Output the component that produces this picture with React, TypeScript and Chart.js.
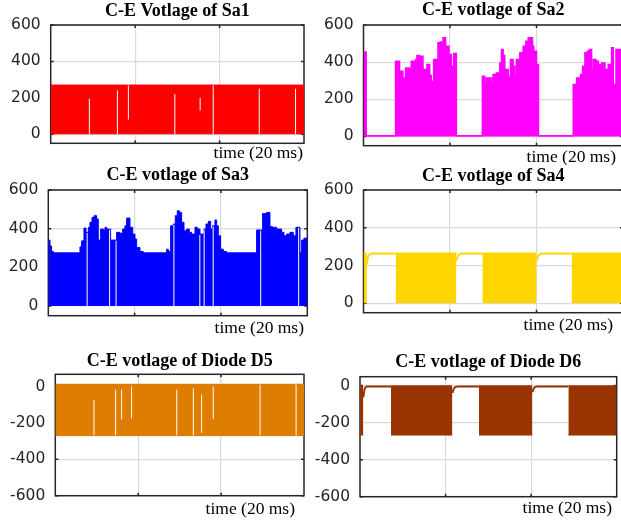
import React, { useEffect, useRef } from 'react';
import { Chart, registerables } from 'chart.js';

Chart.register(...registerables);

// ---------- shared axis data ----------
const X_LABEL = 'time (20 ms)';
const T_MIN = 0;
const T_MAX = 60;
const X_TICKS = [20, 40];
const Y_TICKS_UP = [0, 200, 400, 600];
const Y_TICKS_DOWN = [-600, -400, -200, 0];

const TITLES = [
  'C-E Votlage of Sa1',
  'C-E votlage of Sa2',
  'C-E votlage of Sa3',
  'C-E votlage of Sa4',
  'C-E votlage of Diode D5',
  'C-E votlage of Diode D6',
];

// ---------- Sa1 (PWM band 0..270 with a few gaps) ----------
const SA1_BAND_T = [0, 60];
const SA1_BAND_V = [270, 270];
const SA1_GAP_T = [9.16, 15.8, 18.4, 29.4, 35.4, 38.5, 49.4, 58.0];
const SA1_GAP_LO = [0, 0, 80, 0, 130, 0, 0, 0];
const SA1_GAP_HI = [194, 240, 268, 220, 200, 268, 250, 250];

// ---------- Sa2 (envelope, value holds until next time) ----------
const SA2_T = [0, 0.62, 7.41, 8.34, 9.11, 9.73, 10.66, 11.04, 12.05, 12.36, 12.97, 13.75, 14.36, 14.67, 15.29, 15.68, 16.22, 17.22, 17.76, 18.38, 19.0, 19.77, 20.31, 20.85, 21.47, 27.49, 28.03, 28.42, 29.58, 29.96, 30.73, 31.51, 31.89, 32.28, 32.66, 33.44, 33.98, 34.59, 34.98, 35.37, 36.14, 36.91, 37.53, 38.07, 39.07, 39.38, 40.0, 40.46, 48.49, 49.27, 49.88, 50.19, 50.66, 51.2, 51.74, 52.2, 52.74, 53.13, 53.75, 54.29, 55.06, 55.83, 56.6, 57.37, 57.76, 58.38, 58.92, 60];
const SA2_V = [455, 4, 405, 351, 315, 369, 360, 405, 414, 436, 432, 360, 297, 387, 328, 297, 414, 504, 508, 531, 486, 441, 378, 447, 4, 324, 279, 315, 288, 333, 342, 396, 468, 436, 360, 324, 414, 378, 324, 414, 450, 486, 513, 531, 486, 459, 387, 4, 279, 315, 279, 333, 378, 450, 459, 468, 360, 414, 405, 387, 396, 360, 387, 477, 279, 468, 468, 468];

// ---------- Sa3 (envelope + gaps) ----------
const SA3_T = [0, 0.39, 0.77, 1.16, 7.34, 7.72, 8.26, 8.73, 9.27, 9.65, 10.12, 10.58, 11.2, 11.58, 12.12, 12.74, 13.13, 13.51, 14.44, 15.83, 16.6, 17.22, 17.76, 18.15, 18.92, 19.54, 20.08, 20.46, 21.24, 22.0, 27.41, 27.8, 28.34, 28.96, 29.42, 29.88, 30.35, 30.89, 31.43, 32.05, 32.66, 33.2, 33.98, 34.52, 35.14, 36.06, 36.53, 37.07, 37.61, 38.07, 38.61, 39.0, 39.38, 39.92, 40.54, 41.31, 48.26, 49.65, 50.58, 51.35, 51.97, 52.9, 54.05, 54.59, 55.21, 55.98, 56.76, 57.37, 58.3, 58.69, 59.23, 60];
const SA3_V = [341, 311, 282, 275, 306, 337, 403, 381, 407, 433, 458, 467, 450, 341, 398, 393, 407, 398, 341, 381, 376, 398, 415, 455, 407, 372, 346, 303, 282, 275, 294, 282, 415, 424, 467, 493, 484, 433, 389, 398, 381, 372, 407, 398, 372, 398, 424, 438, 398, 415, 445, 415, 363, 294, 282, 275, 393, 478, 484, 410, 407, 398, 381, 363, 372, 381, 363, 407, 277, 341, 351, 351];
const SA3_GAP_T = [9.0, 14.2, 15.7, 29.1, 35.1, 36.1, 38.2, 49.2, 58.0];
const SA3_GAP_LO = [0, 0, 0, 0, 0, 0, 0, 0, 0];
const SA3_GAP_HI = [378, 395, 338, 420, 368, 395, 412, 390, 404];

// ---------- Sa4 (on blocks + off-state line) ----------
const SA4_ON_START = [0, 7.41, 27.49, 48.1];
const SA4_ON_END = [0.77, 21.47, 40.0, 60];
const SA4_ON_LEVEL = 265;
const SA4_OFF_T = [
  [0.77, 1.0, 1.39, 2.16, 7.41],
  [21.47, 21.85, 22.24, 22.8, 27.49],
  [40.0, 40.35, 40.75, 41.3, 48.1],
];
const SA4_OFF_V = [
  [208, 243, 258, 263, 263],
  [226, 252, 260, 263, 263],
  [226, 250, 259, 263, 263],
];

// ---------- D5 (band -270..15 with gaps) ----------
const D5_BAND_T = [0, 60];
const D5_BAND_V = [-270, -270];
const D5_BAND_TOP = 15;
const D5_GAP_T = [9.33, 14.56, 16.0, 18.4, 29.3, 33.3, 35.3, 38.1, 49.4, 58.1];
const D5_GAP_LO = [-268, -268, -180, -175, -268, -268, -255, -180, -268, -268];
const D5_GAP_HI = [-73, -18, -18, 0, -18, -10, -45, 0, 10, 10];

// ---------- D6 (on blocks + off-state line) ----------
const D6_ON_START = [0, 7.25, 27.8, 48.7];
const D6_ON_END = [0.78, 21.59, 40.29, 60];
const D6_ON_LEVEL = -267;
const D6_ON_TOP = 2;
const D6_OFF_T = [
  [0.78, 1.01, 1.33, 1.71, 7.25],
  [21.59, 21.9, 22.3, 22.8, 27.8],
  [40.29, 40.6, 41.0, 41.4, 48.7],
];
const D6_OFF_V = [
  [-64, -26, -9, -5, -5],
  [-40, -18, -8, -5, -5],
  [-35, -16, -7, -5, -5],
];

// ---------- styles ----------
const RED = '#ff0000';
const MAGENTA = '#ff00ff';
const BLUE = '#0000ff';
const YELLOW = '#ffd500';
const ORANGE = '#de7d00';
const BROWN = '#993300';
const AXIS_COLOR = '#262626';
const GRID_COLOR = '#dadada';
const TITLE_SIZE = 18;
const XLABEL_SIZE = 17.5;
const TICK_SIZE = 15.5;

// ---------- helpers building Chart.js point lists ----------
type Pt = { x: number; y: number | null };
const xy = (ts: number[], vs: number[]): Pt[] => ts.map((t, i) => ({ x: t, y: vs[i] }));
const segs = (tss: number[][], vss: number[][]): Pt[] => {
  const out: Pt[] = [];
  tss.forEach((ts, k) => {
    ts.forEach((t, i) => out.push({ x: t, y: vss[k][i] }));
    out.push({ x: ts[ts.length - 1], y: null });
  });
  return out;
};
const blocks = (starts: number[], ends: number[], level: number): Pt[] => {
  const out: Pt[] = [];
  starts.forEach((s, i) => {
    out.push({ x: s, y: level }, { x: ends[i], y: level }, { x: ends[i], y: null });
  });
  return out;
};
const gaps = (ts: number[], lo: number[], hi: number[]): Pt[] => {
  const out: Pt[] = [];
  ts.forEach((t, i) => {
    out.push({ x: t, y: lo[i] }, { x: t, y: hi[i] }, { x: t, y: null });
  });
  return out;
};
const gapSet = (data: Pt[]) => ({
  data,
  borderColor: '#ffffff',
  borderWidth: 1,
  fill: false,
  spanGaps: false,
  order: 0,
});

type PanelSpec = {
  key: string;
  title: string;
  canvas: { left: number; top: number; w: number; h: number };
  area: { l: number; t: number; r: number; b: number };
  titleCenter: number;
  yMin: number;
  yMax: number;
  yTicks: number[];
  labelDx: number;
  labelDy: number;
  datasets: () => any[];
};

const PANELS: PanelSpec[] = [
  {
    key: 'sa1', title: TITLES[0],
    canvas: { left: 0, top: 0, w: 310, h: 165 },
    area: { l: 50.7, t: 25, r: 304, b: 143.3 },
    titleCenter: 11.7, yMin: -50, yMax: 600, yTicks: Y_TICKS_UP, labelDx: 1, labelDy: 14.5,
    datasets: () => [
      gapSet(gaps(SA1_GAP_T, SA1_GAP_LO, SA1_GAP_HI)),
      { data: xy(SA1_BAND_T, SA1_BAND_V), borderColor: RED, backgroundColor: RED, borderWidth: 1, fill: 'origin', stepped: 'before', order: 1 },
    ],
  },
  {
    key: 'sa2', title: TITLES[1],
    canvas: { left: 310, top: 0, w: 315, h: 165 },
    area: { l: 53.5, t: 25, r: 313, b: 145.7 },
    titleCenter: 10.8, yMin: -50, yMax: 600, yTicks: Y_TICKS_UP, labelDx: 7, labelDy: 16,
    datasets: () => [
      { data: xy(SA2_T, SA2_V), borderColor: MAGENTA, backgroundColor: MAGENTA, borderWidth: 1.5, fill: 'origin', stepped: 'before', order: 1 },
    ],
  },
  {
    key: 'sa3', title: TITLES[2],
    canvas: { left: 0, top: 165, w: 310, h: 175 },
    area: { l: 48.3, t: 25, r: 307.3, b: 150.7 },
    titleCenter: 10.8, yMin: -50, yMax: 600, yTicks: Y_TICKS_UP, labelDx: 3.3, labelDy: 17,
    datasets: () => [
      gapSet(gaps(SA3_GAP_T, SA3_GAP_LO, SA3_GAP_HI)),
      { data: xy(SA3_T, SA3_V), borderColor: BLUE, backgroundColor: BLUE, borderWidth: 1, fill: 'origin', stepped: 'before', order: 1 },
    ],
  },
  {
    key: 'sa4', title: TITLES[3],
    canvas: { left: 310, top: 165, w: 315, h: 175 },
    area: { l: 53.5, t: 25, r: 313, b: 147.7 },
    titleCenter: 11, yMin: -50, yMax: 600, yTicks: Y_TICKS_UP, labelDx: 10, labelDy: 17.3,
    datasets: () => [
      { data: segs(SA4_OFF_T, SA4_OFF_V), borderColor: YELLOW, borderWidth: 2, fill: false, spanGaps: false, cubicInterpolationMode: 'monotone', order: 0 },
      { data: blocks(SA4_ON_START, SA4_ON_END, SA4_ON_LEVEL), borderColor: YELLOW, backgroundColor: YELLOW, borderWidth: 1.5, fill: 'origin', spanGaps: false, order: 1 },
    ],
  },
  {
    key: 'd5', title: TITLES[4],
    canvas: { left: 0, top: 340, w: 310, h: 183 },
    area: { l: 55.3, t: 34.3, r: 304, b: 155.7 },
    titleCenter: 21.7, yMin: -600, yMax: 67, yTicks: Y_TICKS_DOWN, labelDx: 9, labelDy: 18.3,
    datasets: () => [
      gapSet(gaps(D5_GAP_T, D5_GAP_LO, D5_GAP_HI)),
      { data: xy(D5_BAND_T, D5_BAND_V), borderColor: ORANGE, backgroundColor: ORANGE, borderWidth: 1, fill: { value: D5_BAND_TOP }, stepped: 'before', order: 1 },
    ],
  },
  {
    key: 'd6', title: TITLES[5],
    canvas: { left: 310, top: 340, w: 315, h: 183 },
    area: { l: 50, t: 36.7, r: 306.7, b: 156.7 },
    titleCenter: 22.5, yMin: -600, yMax: 48, yTicks: Y_TICKS_DOWN, labelDx: 4.7, labelDy: 16,
    datasets: () => [
      { data: segs(D6_OFF_T, D6_OFF_V), borderColor: BROWN, borderWidth: 2, fill: false, spanGaps: false, cubicInterpolationMode: 'monotone', order: 0 },
      { data: blocks(D6_ON_START, D6_ON_END, D6_ON_LEVEL), borderColor: BROWN, backgroundColor: BROWN, borderWidth: 1, fill: { value: D6_ON_TOP }, spanGaps: false, order: 1 },
    ],
  },
];

function PanelChart({ p }: { p: PanelSpec }) {
  const ref = useRef<HTMLCanvasElement>(null);
  useEffect(() => {
    const canvas = ref.current;
    if (!canvas) return;
    const a = p.area;
    const W = p.canvas.w;
    const H = p.canvas.h;
    const lh = TITLE_SIZE * 1.2;
    const tPadTop = Math.max(0, p.titleCenter - lh / 2);
    const tPadBottom = a.t - tPadTop - lh;

    const frame = {
      id: 'frame-' + p.key,
      beforeDatasetsDraw(chart: any) {
        const { ctx, chartArea: c, scales } = chart;
        ctx.save();
        ctx.strokeStyle = AXIS_COLOR;
        ctx.lineWidth = 1.5;
        ctx.strokeRect(c.left, c.top, c.right - c.left, c.bottom - c.top);
        ctx.beginPath();
        p.yTicks.forEach((v) => {
          const y = scales.y.getPixelForValue(v);
          ctx.moveTo(c.left, y); ctx.lineTo(c.left + 3, y);
          ctx.moveTo(c.right, y); ctx.lineTo(c.right - 3, y);
        });
        X_TICKS.forEach((v) => {
          const x = scales.x.getPixelForValue(v);
          ctx.moveTo(x, c.bottom); ctx.lineTo(x, c.bottom - 3);
          ctx.moveTo(x, c.top); ctx.lineTo(x, c.top + 3);
        });
        ctx.stroke();
        ctx.restore();
      },
      afterDraw(chart: any) {
        const { ctx, chartArea: c } = chart;
        ctx.save();
        ctx.font = `${XLABEL_SIZE}px "Liberation Serif", serif`;
        ctx.fillStyle = '#000000';
        ctx.textAlign = 'right';
        ctx.textBaseline = 'alphabetic';
        ctx.fillText(X_LABEL, c.right - p.labelDx, c.bottom + p.labelDy);
        ctx.restore();
      },
    };

    const chart = new Chart(canvas, {
      type: 'line',
      data: { datasets: p.datasets() },
      options: {
        animation: false,
        responsive: false,
        maintainAspectRatio: false,
        events: [],
        layout: { padding: { left: 0, top: 0, right: W - a.r, bottom: H - a.b } },
        elements: { point: { radius: 0 }, line: { tension: 0 } },
        plugins: {
          legend: { display: false },
          tooltip: { enabled: false },
          title: {
            display: true,
            text: p.title,
            fullSize: false,
            align: 'center',
            color: '#000000',
            font: { family: '"Liberation Serif", serif', size: TITLE_SIZE, weight: 'bold', lineHeight: 1.2 },
            padding: { top: tPadTop, bottom: tPadBottom },
          },
        },
        scales: {
          x: {
            type: 'linear',
            min: T_MIN,
            max: T_MAX,
            offset: false,
            afterBuildTicks: (s: any) => { s.ticks = X_TICKS.map((v) => ({ value: v })); },
            afterFit: (s: any) => { s.height = 0; },
            ticks: { display: false },
            grid: { color: GRID_COLOR, lineWidth: 1.2, drawTicks: false },
            border: { display: false },
          },
          y: {
            type: 'linear',
            min: p.yMin,
            max: p.yMax,
            afterBuildTicks: (s: any) => { s.ticks = p.yTicks.map((v) => ({ value: v })); },
            afterFit: (s: any) => { s.width = a.l; },
            ticks: {
              padding: 10,
              color: AXIS_COLOR,
              font: { family: '"DejaVu Sans", sans-serif', size: TICK_SIZE },
            },
            grid: { color: GRID_COLOR, lineWidth: 1.2, drawTicks: false },
            border: { display: false },
          },
        },
      } as any,
      plugins: [frame],
    });
    return () => chart.destroy();
  }, [p]);
  return (
    <canvas
      ref={ref}
      width={p.canvas.w}
      height={p.canvas.h}
      style={{ position: 'absolute', left: p.canvas.left, top: p.canvas.top, width: p.canvas.w, height: p.canvas.h }}
    />
  );
}

export default function App() {
  return (
    <div style={{ position: 'absolute', left: 0, top: 0, width: 621, height: 523, overflow: 'hidden', background: '#ffffff' }}>
      {PANELS.map((p) => (
        <PanelChart key={p.key} p={p} />
      ))}
    </div>
  );
}
